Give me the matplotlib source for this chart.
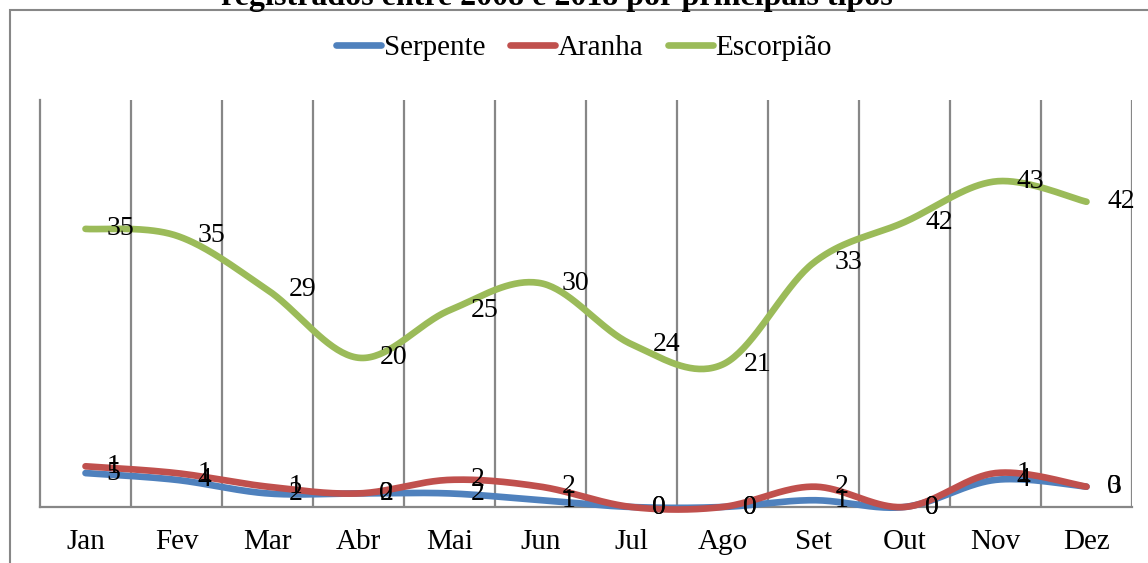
import numpy as np
import matplotlib
matplotlib.use("Agg")
import matplotlib.pyplot as plt
from matplotlib.patches import Rectangle
from matplotlib.lines import Line2D

# Monthly counts of accidents by venomous animal type
months = ["Jan", "Fev", "Mar", "Abr", "Mai", "Jun", "Jul", "Ago", "Set", "Out", "Nov", "Dez"]
serpente = [5, 4, 2, 2, 2, 1, 0, 0, 1, 0, 4, 3]
aranha = [1, 1, 1, 0, 2, 2, 0, 0, 2, 0, 1, 0]
escorpiao = [35, 35, 29, 20, 25, 30, 24, 21, 33, 42, 43, 42]

series_names = ["Serpente", "Aranha", "Escorpião"]
series_colors = ["#4F81BD", "#C0504D", "#9BBB59"]
title = "registrados entre 2008 e 2018 por principais tipos"

FONT = "Liberation Serif"
GRID = "#878787"
W, H = 1148, 563


def smooth(y, n=40):
    """Catmull-Rom style Bezier smoothing through the points (x = 0..N-1)."""
    pts = np.column_stack([np.arange(len(y)), y]).astype(float)
    out = []
    t = np.linspace(0, 1, n)[:, None]
    for i in range(len(pts) - 1):
        p0 = pts[max(i - 1, 0)]
        p1 = pts[i]
        p2 = pts[i + 1]
        p3 = pts[min(i + 2, len(pts) - 1)]
        c1 = p1 + (p2 - p0) / 6.0
        c2 = p2 - (p3 - p1) / 6.0
        seg = (1 - t) ** 3 * p1 + 3 * (1 - t) ** 2 * t * c1 + 3 * (1 - t) * t ** 2 * c2 + t ** 3 * p2
        out.append(seg if i == 0 else seg[1:])
    return np.vstack(out)


fig = plt.figure(figsize=(W / 100, H / 100), dpi=100)
fig.patch.set_facecolor("white")

# chart frame
fig.patches.append(Rectangle((10 / W, -0.1), 1.2, 1.1 - 10 / H, transform=fig.transFigure,
                             fill=False, ec=GRID, lw=1.5))

fig.text(557 / W, 1 - 5 / H, title, ha="center", va="baseline",
         fontsize=23, fontweight="bold", family=FONT)

left, right, top, bottom = 40, 1132, 100, 507
ax = fig.add_axes([left / W, 1 - bottom / H, (right - left) / W, (bottom - top) / H])
ax.set_xlim(-0.5, len(months) - 0.5)
ax.set_ylim(0, 60)

for xb in np.arange(0.5, len(months), 1.0):
    ax.axvline(xb, color=GRID, lw=1.6, zorder=1)

for side in ["top", "right"]:
    ax.spines[side].set_visible(False)
for side in ["left", "bottom"]:
    ax.spines[side].set_color(GRID)
    ax.spines[side].set_linewidth(1.6)

ax.set_yticks([])
ax.set_xticks(range(len(months)))
ax.set_xticklabels(months, family=FONT, fontsize=21)
ax.tick_params(axis="x", length=0, pad=16)

# stacked lines
values = [serpente, aranha, escorpiao]
levels = np.cumsum(np.array(values, dtype=float), axis=0)
x = np.arange(len(months))
for k, (vals, lev, col) in enumerate(zip(values, levels, series_colors)):
    curve = smooth(lev)
    ax.plot(curve[:, 0], curve[:, 1], color=col, lw=4.8, solid_capstyle="round",
            zorder=3 + k, clip_on=False)
for k, (vals, lev) in enumerate(zip(values, levels)):
    for xi, v, yl in zip(x, vals, lev):
        ax.annotate(str(v), (xi, yl), xytext=(15, 0), textcoords="offset points",
                    ha="left", va="center", family=FONT, fontsize=20,
                    color="black", zorder=10, annotation_clip=False)

handles = [Line2D([], [], color=c, lw=4.8, solid_capstyle="round") for c in series_colors]
fig.legend(handles, series_names, loc="center", bbox_to_anchor=(584 / W, 1 - 48 / H),
           ncol=3, frameon=False, handlelength=1.55, handletextpad=0.08, columnspacing=0.85,
           prop={"family": FONT, "size": 21})

fig.savefig("out.png", dpi=100, facecolor="white")
